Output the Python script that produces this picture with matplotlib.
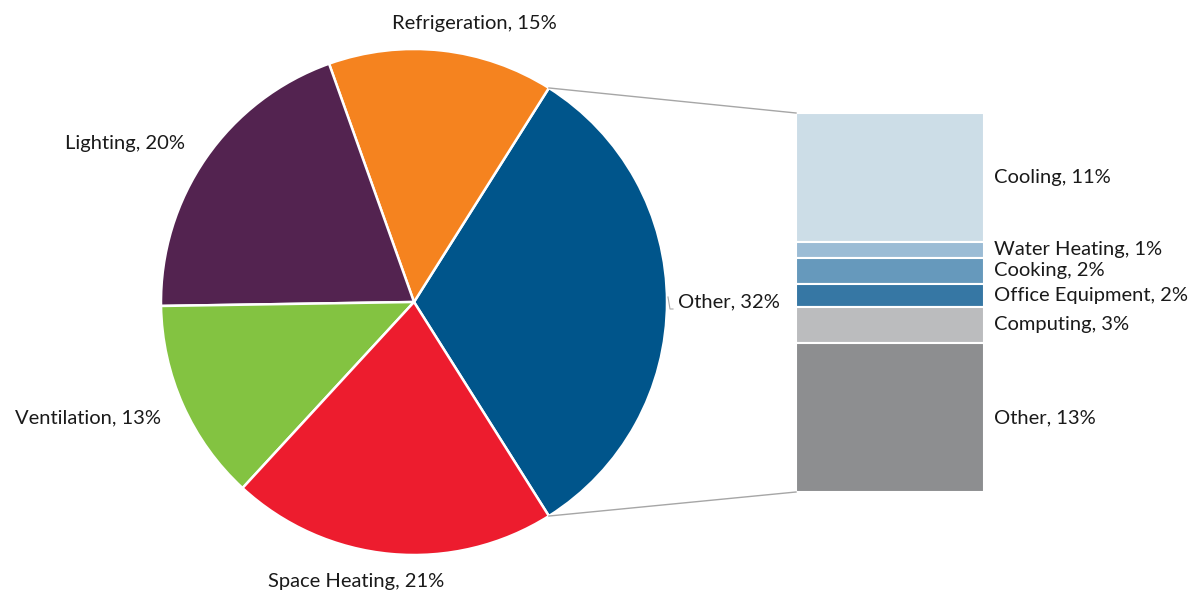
import matplotlib
matplotlib.use("Agg")
import matplotlib.pyplot as plt
import numpy as np

# Data
pie_labels = ["Other", "Refrigeration", "Lighting", "Ventilation", "Space Heating"]
pie_values = [32.1, 14.4, 19.8, 12.9, 20.8]
pie_pct_text = ["32%", "15%", "20%", "13%", "21%"]
pie_colors = ["#00558B", "#F5831F", "#532350", "#83C341", "#ED1C2E"]

bar_labels = ["Cooling", "Water Heating", "Cooking", "Office Equipment", "Computing", "Other"]
bar_values = [10.9, 1.35, 2.2, 1.95, 3.05, 12.6]
bar_pct_text = ["11%", "1%", "2%", "2%", "3%", "13%"]
bar_colors = ["#CCDDE7", "#9BBCD5", "#6699BC", "#3677A4", "#BBBCBE", "#8D8E90"]

plt.rcParams['font.family'] = ['Lato', 'DejaVu Sans']
FS = 14.5
W, H = 1199, 595
fig = plt.figure(figsize=(W / 100, H / 100), dpi=100)
ax = fig.add_axes([0, 0, 1, 1])

# Pie layout (pixel coords, y up)
cx, cy, r = 414, H - 302, 253
start = -pie_values[0] / 2 / 100 * 360
wedges, _ = ax.pie(pie_values, colors=pie_colors, startangle=start, counterclock=True,
                   center=(cx, cy), radius=r, frame=True,
                   wedgeprops=dict(edgecolor="white", linewidth=1.8))
ax.set_xlim(0, W)
ax.set_ylim(0, H)
ax.set_aspect('equal')
ax.axis('off')

# Pie labels
label_pos = [(678, H - 302, 'left'), (474, H - 23, 'center'), (125, H - 143, 'center'),
             (88, H - 418, 'center'), (356, H - 582, 'center')]
for (x, y, ha), name, pct in zip(label_pos, pie_labels, pie_pct_text):
    ax.text(x, y, f"{name}, {pct}", ha=ha, va='center', fontsize=FS, color="#1a1a1a")
# tiny leader for Other
ax.plot([668, 670, 673], [H - 297, H - 309, H - 309], color="#AAAAAA", lw=0.8)

# Bar of pie
bx0, bx1 = 796, 984
btop, bbot = H - 113, H - 492
scale = (btop - bbot) / sum(bar_values)
y = btop
for val, col, name, pct in zip(bar_values, bar_colors, bar_labels, bar_pct_text):
    h = val * scale
    ax.bar((bx0 + bx1) / 2, h, width=bx1 - bx0, bottom=y - h, color=col,
           edgecolor="white", linewidth=1.5)
    ax.text(994, y - h / 2, f"{name}, {pct}", ha='left', va='center', fontsize=FS, color="#1a1a1a")
    y -= h

# connector lines from wedge edge to bar
theta = np.deg2rad(pie_values[0] / 2 / 100 * 360)
ax.plot([cx + r * np.cos(theta), bx0], [cy + r * np.sin(theta), btop], color="#A6A6A6", lw=1)
ax.plot([cx + r * np.cos(-theta), bx0], [cy + r * np.sin(-theta), bbot], color="#A6A6A6", lw=1)

fig.savefig("out.png", dpi=100, facecolor="white")
